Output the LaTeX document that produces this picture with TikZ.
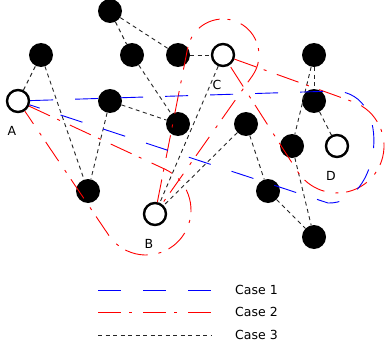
\documentclass[tikz,border=0pt]{standalone}
\usepackage{fontspec}
\setmainfont{DejaVu Sans}
\usepackage{tikz}
\usetikzlibrary{calc}

\begin{document}
\begin{tikzpicture}[x=1pt, y=-1pt,
	blk/.style={circle, fill=black, minimum size=24pt, inner sep=0pt},
	wht/.style={circle, draw=black, line width=2.4pt, fill=white, minimum size=22pt, inner sep=0pt},
	lbl/.style={font=\fontsize{12.5}{15}\selectfont, inner sep=0pt},
	caseone/.style={blue, line width=0.9pt, dash pattern=on 23pt off 22pt},
	casetwo/.style={red, line width=0.9pt, dash pattern=on 23pt off 8pt on 3pt off 11pt},
	casethree/.style={black!85, line width=0.9pt, dash pattern=on 4pt off 3.5pt}]
	\useasboundingbox (0,0) rectangle (385,345);
	
	\node[blk] (n1) at (110,11) {};
	\node[blk] (n2) at (41,55) {};
	\node[blk] (n3) at (132,55) {};
	\node[blk] (n4) at (178,55) {};
	\node[blk] (n5) at (314,55) {};
	\node[blk] (n6) at (110,101) {};
	\node[blk] (n7) at (314,101) {};
	\node[blk] (n8) at (178,124) {};
	\node[blk] (n9) at (246,124) {};
	\node[blk] (n10) at (292,146) {};
	\node[blk] (n11) at (88,191) {};
	\node[blk] (n12) at (268,191) {};
	\node[blk] (n13) at (314,237) {};
	
	\node[wht] (A) at (18,101) {};
	\node[wht] (B) at (155,214) {};
	\node[wht] (C) at (223,55) {};
	\node[wht] (D) at (337,146) {};
	\foreach \p in {A,B,C,D}
		\node[lbl] (lab\p) at ([shift={(-6,30)}]\p) {\p};
	
	\foreach \u/\v in {A/n2, n2/n11, n6/n11, n1/n3, n1/n4, n4/C, n3/n8, n6/n8,
		C/B, n9/B, n9/n12, n12/n13, n10/n13, n5/n10, n5/n7, n7/D}
		\draw[casethree] (\u) -- (\v);
	
	\coordinate (ta1) at (164.94,169.18);
	\coordinate (tb1) at (187.68,48.04);
	\coordinate (tc1) at (352.93,101.77);
	\draw[casetwo] (A) -- (ta1) arc[start angle=-65.1, end angle=145.94, radius=45] -- (A);
	\draw[casetwo] (B) -- (tb1) arc[start angle=191.15, end angle=395.18, radius=36] -- (B);
	\draw[casetwo] (C) -- (tc1) arc[start angle=-70.19, end angle=147.39, radius=47] -- (C);
	
	\coordinate (td1) at (335,91);
	\coordinate (td2) at (328,203);
	\draw[caseone] (A) -- (td1) .. controls (395,93) and (380,205) .. (td2) -- (A);
	
	\foreach \s/\y/\t in {caseone/290/1, casetwo/312/2, casethree/335/3}{
		\coordinate (ka\t) at (98,\y);
		\coordinate (kb\t) at (212,\y);
		\draw[\s] (ka\t) -- (kb\t);
		\node[lbl, anchor=west] (key\t) at (235,\y) {Case \t};
	}
\end{tikzpicture}
\end{document}
